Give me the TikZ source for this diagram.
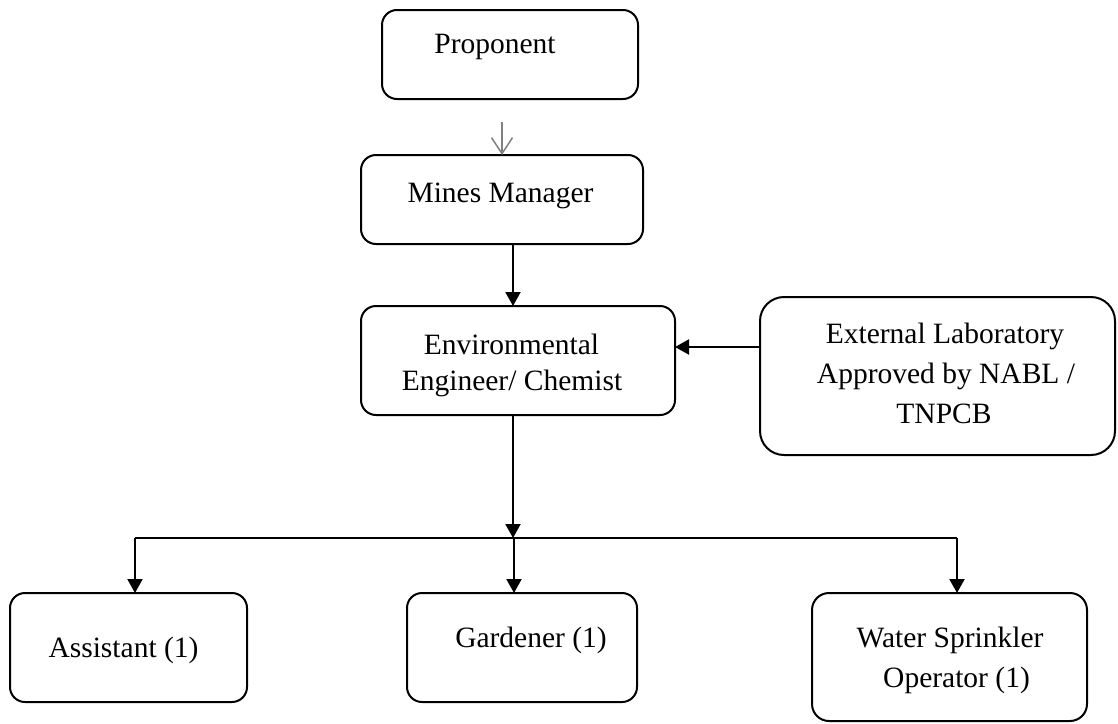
\documentclass[tikz,border=0pt]{standalone}
\usepackage{fontspec}
\setmainfont{Liberation Serif}
\usetikzlibrary{arrows.meta}
\begin{document}
\begin{tikzpicture}[x=1pt,y=-1pt,
  box/.style={draw=black, line width=2pt, rounded corners=15pt, inner sep=0pt, outer sep=0pt},
  txt/.style={inner sep=0pt, anchor=base, font=\fontsize{29.5}{38}\selectfont},
  arr/.style={line width=2pt, -{Triangle[width=15pt,length=14pt]}},
  grayarr/.style={draw={rgb,255:red,128;green,128;blue,128}, line width=1.5pt, -{Straight Barb[width=21pt,length=16pt,line width=1.5pt]}},
  line/.style={line width=2pt}]
\useasboundingbox (0,0) rectangle (1118,723);
% boxes
\node[box, minimum width=256pt, minimum height=89pt] (prop) at (510,54.5) {};
\node[box, minimum width=282pt, minimum height=89pt] (mines) at (502,199.5) {};
\node[box, minimum width=314pt, minimum height=109pt] (env) at (518,360.5) {};
\node[box, minimum width=355pt, minimum height=158pt, rounded corners=24pt] (ext) at (937.5,376) {};
\node[box, minimum width=237pt, minimum height=109pt] (asst) at (128.5,647.5) {};
\node[box, minimum width=230pt, minimum height=109pt] (gard) at (522,647.5) {};
\node[box, minimum width=275pt, minimum height=128pt, rounded corners=17pt] (water) at (949.5,657) {};
% texts
\node[txt] (tprop) at (495,53) {Proponent};
\node[txt] (tmines) at (500.5,202) {Mines Manager};
\node[txt] (tenva) at (511.5,354) {Environmental};
\node[txt] (tenvb) at (512,390) {Engineer/ Chemist};
\node[txt] (texta) at (945,343) {External Laboratory};
\node[txt] (textb) at (946,383) {Approved by NABL /};
\node[txt] (textc) at (944,423) {TNPCB};
\node[txt] (tasst) at (123.5,657) {Assistant (1)};
\node[txt] (tgard) at (531,647) {Gardener (1)};
\node[txt] (twata) at (950,647) {Water Sprinkler};
\node[txt] (twatb) at (956.5,687) {Operator (1)};
% coordinates
\coordinate (j) at (513,538);
\coordinate (jl) at (135,538);
\coordinate (jr) at (957,538);
\coordinate (jm) at (514,538);
\coordinate (c) at (700,347);
\coordinate (m) at (513,250);
% connectors
\draw[grayarr, shorten <=23pt] (prop.south -| mines.north) -- (mines.north);
\draw[arr] (mines.south -| m) -- (env.north -| m);
\draw[arr] (ext.west |- c) -- (env.east |- c);
\draw[arr] (env.south -| j) -- (j);
\draw[line] (jl) -- (jr);
\draw[arr] (jl) -- (asst.north -| jl);
\draw[arr] (jm) -- (gard.north -| jm);
\draw[arr] (jr) -- (water.north -| jr);
\end{tikzpicture}
\end{document}
